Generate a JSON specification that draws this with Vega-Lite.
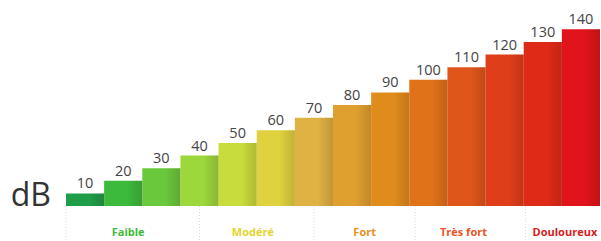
{
  "$schema": "https://vega.github.io/schema/vega-lite/v6.json",
  "width": 601,
  "height": 241,
  "padding": 0,
  "autosize": "none",
  "background": "white",
  "config": {"view": {"stroke": null}},
  "datasets": {
    "bars": [
      {"value": 10}, {"value": 20}, {"value": 30}, {"value": 40}, {"value": 50},
      {"value": 60}, {"value": 70}, {"value": 80}, {"value": 90}, {"value": 100},
      {"value": 110}, {"value": 120}, {"value": 130}, {"value": 140}
    ],
    "cats": [
      {"label": "Faible", "pos": 16.3},
      {"label": "Modéré", "pos": 49},
      {"label": "Fort", "pos": 78.3},
      {"label": "Très fort", "pos": 104.2},
      {"label": "Douloureux", "pos": 130.8}
    ],
    "dividers": [{"at": 0}, {"at": 35}, {"at": 65}, {"at": 91.5}, {"at": 120.5}],
    "unit": [{"u": "dB", "at": -9.2}]
  },
  "resolve": {"scale": {"x": "independent", "color": "independent"}},
  "layer": [
    {
      "data": {"name": "bars"},
      "mark": {"type": "bar", "cornerRadius": 0},
      "encoding": {
        "x": {"field": "value", "type": "ordinal", "axis": null,
              "scale": {"type": "band", "range": [66, 600], "paddingInner": 0, "paddingOuter": 0}},
        "y": {"field": "value", "type": "quantitative", "axis": null,
              "scale": {"domain": [-27.7, 163.2], "nice": false, "zero": false}},
        "y2": {"datum": 0},
        "color": {"field": "value", "type": "ordinal", "legend": null,
                  "scale": {"range": ["#1f9e4a", "#3cba3c", "#6ac83c", "#9cd83c", "#c8dc3c", "#dfd23e", "#dfb244", "#e0a030", "#e08c1c", "#e0721a", "#e0561a", "#e03e1a", "#e02a18", "#e0141a"]}}
      }
    },
    {
      "data": {"name": "bars"},
      "mark": {"type": "bar", "fill": {"gradient": "linear", "x1": 0, "x2": 1, "y1": 0, "y2": 0,
        "stops": [{"offset": 0, "color": "rgba(0,0,0,0)"}, {"offset": 0.6, "color": "rgba(0,0,0,0)"}, {"offset": 1, "color": "rgba(60,0,0,0.16)"}]}},
      "encoding": {
        "x": {"field": "value", "type": "ordinal", "axis": null,
              "scale": {"type": "band", "range": [66, 600], "paddingInner": 0, "paddingOuter": 0}},
        "y": {"field": "value", "type": "quantitative", "axis": null},
        "y2": {"datum": 0}
      }
    },
    {
      "data": {"name": "bars"},
      "mark": {"type": "text", "dy": -5, "baseline": "alphabetic", "align": "center", "font": "Open Sans", "fontSize": 14.5, "fill": "#444"},
      "encoding": {
        "x": {"field": "value", "type": "ordinal", "axis": null,
              "scale": {"type": "band", "range": [66, 600], "paddingInner": 0, "paddingOuter": 0}},
        "y": {"field": "value", "type": "quantitative", "axis": null},
        "text": {"field": "value", "type": "quantitative"}
      }
    },
    {
      "data": {"name": "dividers"},
      "mark": {"type": "rule", "stroke": "#d8d8d8", "strokeWidth": 1, "strokeDash": [1, 2]},
      "encoding": {
        "x": {"field": "at", "type": "quantitative", "axis": null,
              "scale": {"domain": [0, 140], "range": [66, 600], "nice": false, "zero": false}},
        "y": {"datum": 0},
        "y2": {"datum": -27.7}
      }
    },
    {
      "data": {"name": "cats"},
      "mark": {"type": "text", "font": "Open Sans", "fontWeight": "bold", "fontSize": 11, "baseline": "middle", "align": "center"},
      "encoding": {
        "x": {"field": "pos", "type": "quantitative", "axis": null,
              "scale": {"domain": [0, 140], "range": [66, 600], "nice": false, "zero": false}},
        "y": {"datum": -21.2},
        "text": {"field": "label", "type": "nominal"},
        "color": {"field": "label", "type": "nominal", "legend": null,
                  "scale": {"domain": ["Faible", "Modéré", "Fort", "Très fort", "Douloureux"],
                            "range": ["#3dba3a", "#e3d42f", "#e8901e", "#e8531e", "#d91a1a"]}}
      }
    },
    {
      "data": {"name": "unit"},
      "mark": {"type": "text", "font": "Open Sans", "fontSize": 32, "baseline": "alphabetic", "align": "center", "fill": "#333"},
      "encoding": {
        "x": {"field": "at", "type": "quantitative", "axis": null,
              "scale": {"domain": [0, 140], "range": [66, 600], "nice": false, "zero": false}},
        "y": {"datum": 0},
        "text": {"field": "u"}
      }
    }
  ]
}
